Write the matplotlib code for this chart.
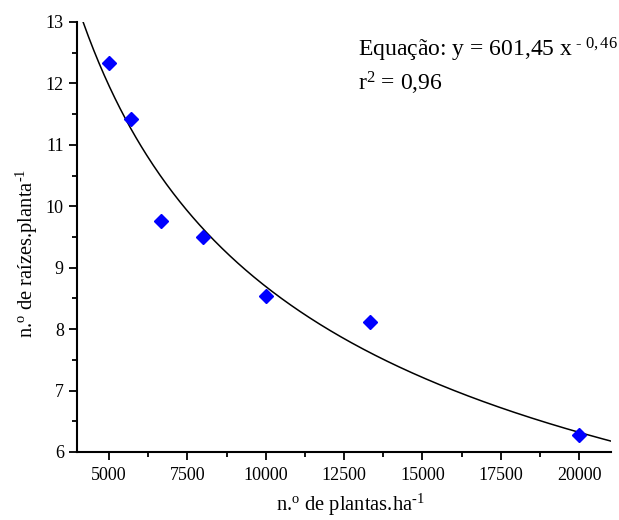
import numpy as np
import matplotlib
matplotlib.use("Agg")
import matplotlib.pyplot as plt
from matplotlib.ticker import MultipleLocator

plants = [5000, 5714, 6667, 8000, 10000, 13333, 20000]
roots = [12.33, 11.42, 9.76, 9.50, 8.54, 8.11, 6.28]
coef_a = 601.45
coef_b = -0.46
x_ticks = [5000, 7500, 10000, 12500, 15000, 17500, 20000]
y_ticks = [6, 7, 8, 9, 10, 11, 12, 13]

plt.rcParams['font.family'] = ['Liberation Serif', 'DejaVu Serif']
plt.rcParams['mathtext.fontset'] = 'custom'
plt.rcParams['mathtext.rm'] = 'Liberation Serif'
plt.rcParams['mathtext.it'] = 'Liberation Serif:italic'

fig = plt.figure(figsize=(6.19, 5.20), dpi=100)
ax = fig.add_axes([0.1244, 0.1308, 0.8626, 0.8269])

xc = np.linspace(4170, 21020, 400)
ax.plot(xc, coef_a * xc ** coef_b, color='black', lw=1.1, zorder=2)
ax.plot(plants, roots, linestyle='none', marker='D', ms=6.8, color='#0000ff', zorder=3)

ax.set_xlim(3975, 21020)
ax.set_ylim(6, 13)
ax.set_xticks(x_ticks)
ax.set_yticks(y_ticks)
ax.xaxis.set_minor_locator(MultipleLocator(1250))
ax.yaxis.set_minor_locator(MultipleLocator(0.5))
for s in ['top', 'right']:
    ax.spines[s].set_visible(False)
for s in ['left', 'bottom']:
    ax.spines[s].set_linewidth(1.5)
ax.tick_params(which='major', direction='out', length=6, width=1.3, labelsize=13, colors='black')
ax.tick_params(which='minor', direction='out', length=3.5, width=1.3)
ax.tick_params(axis='x', pad=5)

ax.set_xlabel('n.$^{\\mathrm{o}}$ de plantas.ha$^{\\mathrm{\u20101}}$', fontsize=14.8)
ax.set_ylabel('n.$^{\\mathrm{o}}$ de raízes.planta$^{\\mathrm{\u20101}}$', fontsize=14.8)
ax.xaxis.set_label_coords((350 - 77) / 534, -(505 - 452) / 430, transform=ax.transAxes)
ax.yaxis.set_label_coords(-(77 - 27) / 534, (452 - 253) / 430, transform=ax.transAxes)
ax.xaxis.label.set_va('center')
ax.yaxis.label.set_va('center')

fig.text(358/619, 1 - 50/520, 'Equação: y = 601,45 x$^{\\mathrm{\\ \u2010\\ 0,46}}$', fontsize=17,
         va='center', ha='left')
fig.text(358/619, 1 - 83/520, 'r$^{\\mathrm{2}}$ = 0,96', fontsize=17, va='center', ha='left')

fig.savefig('out.png', dpi=100)
